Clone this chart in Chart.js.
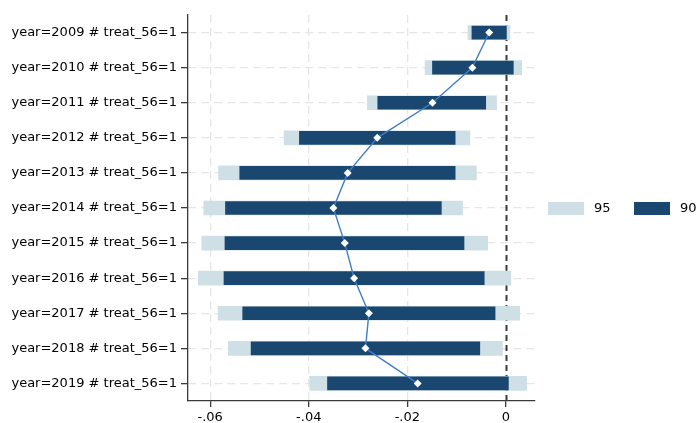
<!DOCTYPE html>
<html>
<head>
<meta charset="utf-8">
<script src="https://cdn.jsdelivr.net/npm/chart.js@4/dist/chart.umd.min.js"></script>
<style>
  html, body { margin: 0; padding: 0; background: #fff; }
  #wrap { position: relative; width: 697px; height: 423px; }
</style>
</head>
<body>
<div id="wrap"><canvas id="chart"></canvas></div>
<script>
// Event-study coefficients: year x treatment interactions
const categories = [
  'year=2009 # treat_56=1', 'year=2010 # treat_56=1', 'year=2011 # treat_56=1',
  'year=2012 # treat_56=1', 'year=2013 # treat_56=1', 'year=2014 # treat_56=1',
  'year=2015 # treat_56=1', 'year=2016 # treat_56=1', 'year=2017 # treat_56=1',
  'year=2018 # treat_56=1', 'year=2019 # treat_56=1'
];
const estimate = [-0.0034, -0.0068, -0.0149, -0.0261, -0.0321, -0.0350, -0.0327, -0.0308, -0.0278, -0.0285, -0.0179];
const ci95Low  = [-0.0077, -0.0164, -0.0281, -0.0450, -0.0583, -0.0613, -0.0617, -0.0624, -0.0584, -0.0563, -0.0398];
const ci95High = [ 0.0008,  0.0032, -0.0019, -0.0073, -0.0060, -0.0088, -0.0037,  0.0010,  0.0028, -0.0007,  0.0042];
const ci90Low  = [-0.0069, -0.0149, -0.0260, -0.0419, -0.0540, -0.0569, -0.0570, -0.0572, -0.0534, -0.0517, -0.0362];
const ci90High = [ 0.0001,  0.0015, -0.0041, -0.0103, -0.0103, -0.0131, -0.0085, -0.0044, -0.0022, -0.0053,  0.0005];
const xTicks = [-0.06, -0.04, -0.02, 0];
const legendLabels = ['95', '90'];

const COLOR_95 = '#cedfe5';
const COLOR_90 = '#1a476f';
const COLOR_LINE = '#3f7ecb';
const GRID = '#e6e6e6';
const AXIS = '#3a3a3a';
const FONT = { family: 'DejaVu Sans', size: 13 };

Chart.defaults.font.family = FONT.family;
Chart.defaults.font.size = FONT.size;
Chart.defaults.color = '#000';

function fmtTick(v) {
  if (Math.abs(v) < 1e-12) return '0';
  return (v < 0 ? '-' : '') + Math.abs(v).toFixed(2).replace(/^0/, '');
}

// dashed reference line at zero, under the bars
const zeroLine = {
  id: 'zeroLine',
  beforeDatasetsDraw(chart) {
    const { ctx, chartArea, scales } = chart;
    const x = Math.round(scales.x.getPixelForValue(0)) + 0.5;
    ctx.save();
    ctx.strokeStyle = AXIS;
    ctx.lineWidth = 2;
    ctx.setLineDash([6, 4]);
    ctx.beginPath();
    ctx.moveTo(x, chartArea.top);
    ctx.lineTo(x, chartArea.bottom);
    ctx.stroke();
    ctx.restore();
  }
};

// horizontal legend to the right of the plot
const sideLegend = {
  id: 'sideLegend',
  afterDraw(chart) {
    const { ctx } = chart;
    const colors = [COLOR_95, COLOR_90];
    const starts = [548, 634];
    const yMid = 208.5;
    ctx.save();
    ctx.font = `${FONT.size}px "${FONT.family}"`;
    ctx.textBaseline = 'middle';
    legendLabels.forEach((lab, i) => {
      ctx.fillStyle = colors[i];
      ctx.fillRect(starts[i], yMid - 6.5, 36, 13);
      ctx.fillStyle = '#000';
      ctx.fillText(lab, starts[i] + 46, yMid);
    });
    ctx.restore();
  }
};

new Chart(document.getElementById('chart'), {
  data: {
    labels: categories,
    datasets: [
      {
        type: 'line',
        label: 'coef',
        data: estimate,
        order: 0,
        borderColor: COLOR_LINE,
        borderWidth: 1.4,
        tension: 0,
        pointStyle: 'rectRot',
        pointRadius: 4,
        pointBackgroundColor: '#fff',
        pointBorderColor: '#fff',
        pointBorderWidth: 0
      },
      {
        type: 'bar',
        label: legendLabels[1],
        data: categories.map((_, i) => [ci90Low[i], ci90High[i]]),
        backgroundColor: COLOR_90,
        barThickness: 13,
        grouped: false,
        order: 1
      },
      {
        type: 'bar',
        label: legendLabels[0],
        data: categories.map((_, i) => [ci95Low[i], ci95High[i]]),
        backgroundColor: COLOR_95,
        barThickness: 14,
        grouped: false,
        order: 2
      }
    ]
  },
  options: {
    indexAxis: 'y',
    responsive: true,
    maintainAspectRatio: false,
    animation: false,
    devicePixelRatio: 1,
    layout: { padding: { top: 15, right: 162, left: 0, bottom: 0 } },
    plugins: { legend: { display: false }, tooltip: { enabled: false } },
    scales: {
      x: {
        type: 'linear',
        min: -0.0645,
        max: 0.0059,
        afterBuildTicks: s => { s.ticks = xTicks.map(v => ({ value: v })); },
        afterFit: s => { s.height = 22; },
        ticks: { callback: v => fmtTick(v), color: '#000', padding: 3, maxRotation: 0, font: FONT },
        grid: {
          color: c => (c.tick && Math.abs(c.tick.value) < 1e-12) ? 'rgba(0,0,0,0)' : GRID,
          lineWidth: 1.3,
          tickColor: AXIS,
          tickLength: 6,
          tickWidth: 1.3,
          tickBorderDash: []
        },
        border: { color: AXIS, width: 1.3, dash: [8, 5] }
      },
      y: {
        type: 'category',
        offset: true,
        afterFit: s => { s.width = 188; },
        ticks: { color: '#000', padding: 4, font: FONT },
        grid: {
          offset: false,
          color: GRID,
          lineWidth: 1.3,
          tickColor: AXIS,
          tickLength: 7,
          tickWidth: 1.3,
          tickBorderDash: []
        },
        border: { color: AXIS, width: 1.3, dash: [8, 5] }
      }
    }
  },
  plugins: [zeroLine, sideLegend]
});
</script>
</body>
</html>
